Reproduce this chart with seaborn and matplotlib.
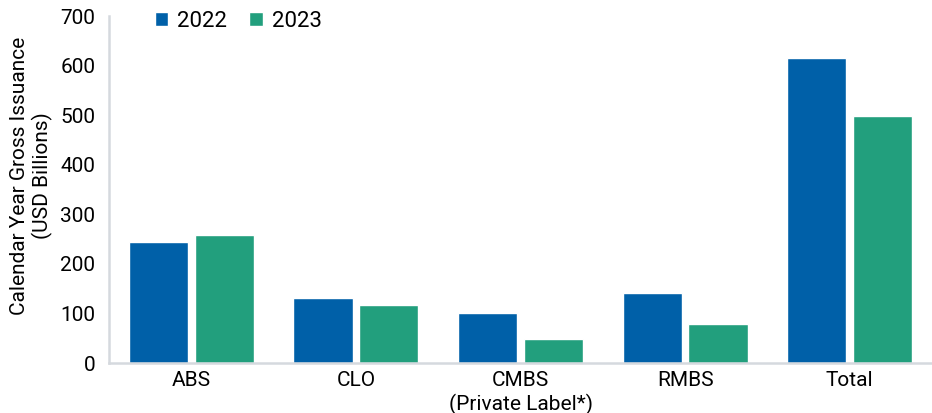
import seaborn as sns
import matplotlib.pyplot as plt
import pandas as pd

categories = ["ABS", "CLO", "CMBS\n(Private Label*)", "RMBS", "Total"]
issuance_2022 = [244, 131, 101, 141, 615]
issuance_2023 = [258, 117, 48, 79, 498]
years = ["2022", "2023"]

df = pd.DataFrame({
    "category": categories * 2,
    "year": [years[0]] * len(categories) + [years[1]] * len(categories),
    "value": issuance_2022 + issuance_2023,
})

sns.set_style("white")
plt.rcParams["font.family"] = ["Roboto", "DejaVu Sans"]
plt.rcParams["text.color"] = "black"
plt.rcParams["axes.labelcolor"] = "black"
plt.rcParams["xtick.labelcolor"] = "black"
plt.rcParams["ytick.labelcolor"] = "black"

fig = plt.figure(figsize=(9.32, 4.13), dpi=100)
ax = fig.add_axes([0.117, 0.121, 0.883, 0.840])

sns.barplot(data=df, x="category", y="value", hue="year", ax=ax,
            palette=["#0060A8", "#229F7D"], width=0.8, gap=0.1,
            saturation=1, errorbar=None)

ax.set_ylim(0, 700)
ax.set_xlim(-0.5, 4.5)
ax.set_yticks(range(0, 701, 100))
ax.set_xlabel("")
ax.set_ylabel("Calendar Year Gross Issuance\n(USD Billions)", fontsize=15)
ax.yaxis.set_label_coords(-0.068, 0.54)

for side in ["top", "right"]:
    ax.spines[side].set_visible(False)
for side in ["left", "bottom"]:
    ax.spines[side].set_color("#d5d9de")
    ax.spines[side].set_linewidth(1.8)

ax.tick_params(axis="y", direction="in", length=20, width=1.5, color="#d5d9de",
               labelsize=15, pad=10)
ax.tick_params(axis="x", length=0, labelsize=15, pad=6)

ax.legend(loc="upper left", bbox_to_anchor=(0.045, 1.04), ncol=2, frameon=False,
          fontsize=16, handlelength=0.6, handleheight=0.6, handletextpad=0.4,
          columnspacing=1.0, borderaxespad=0)

fig.savefig("out.png", dpi=100)
